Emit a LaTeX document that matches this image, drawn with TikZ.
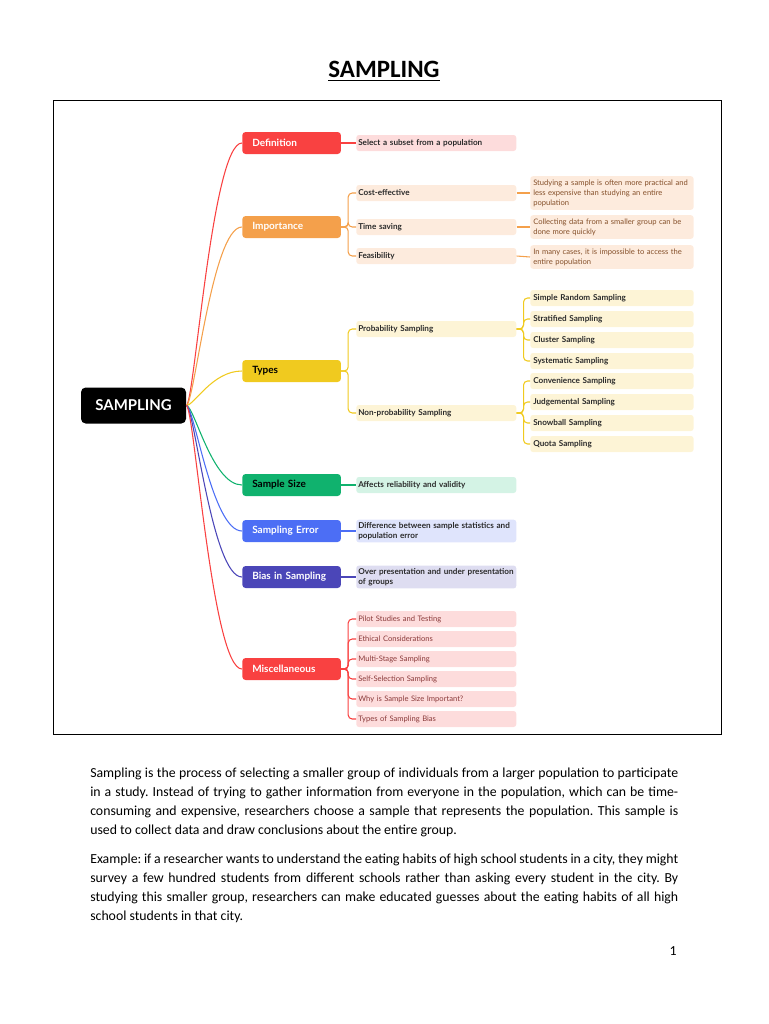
\documentclass[tikz,border=0pt]{standalone}
\usepackage{fontspec}
\usepackage{xcolor}
\usepackage{tikz}
\setmainfont{Carlito}
\newfontfamily\mapfont{Lato}
\frenchspacing
\definecolor{DefRed}{HTML}{F94141}
\definecolor{ImpOrange}{HTML}{F4A04B}
\definecolor{TypYellow}{HTML}{F0CA1F}
\definecolor{SizGreen}{HTML}{10B26E}
\definecolor{ErrBlue}{HTML}{4C6EF5}
\definecolor{BiaIndigo}{HTML}{4B46B8}
\definecolor{PinkLight}{HTML}{FDDCDC}
\definecolor{PeachLight}{HTML}{FDEBDD}
\definecolor{YellowLight}{HTML}{FDF4D6}
\definecolor{MintLight}{HTML}{D4F3E5}
\definecolor{BlueLight}{HTML}{DFE4FC}
\definecolor{LavLight}{HTML}{DEDDF1}
\definecolor{TextDark}{HTML}{2B2B2B}
\definecolor{ImpText}{HTML}{85502A}
\definecolor{MisText}{HTML}{8A3A3A}

\tikzset{
  rootbox/.style={fill=black, text=white, rounded corners=3.5pt, minimum width=78.75pt,
    minimum height=27pt, font=\mapfont\bfseries\fontsize{11.2}{12}\selectfont},
  topic/.style={anchor=west, rounded corners=2.5pt, text width=59pt, inner xsep=7.5pt,
    inner ysep=0pt, minimum height=16.5pt, text=white, align=left,
    font=\mapfont\bfseries\fontsize{7.5}{8}\selectfont},
  leaf/.style={anchor=west, rounded corners=2pt, text width=117pt, inner xsep=1.5pt,
    inner ysep=2pt, minimum height=12pt, text=TextDark, align=left,
    font=\mapfont\bfseries\fontsize{6.1}{7.5}\selectfont},
  subleaf/.style={leaf, text width=118pt, inner xsep=2.25pt},
  note/.style={subleaf, inner ysep=2.5pt, font=\mapfont\fontsize{5.7}{7.5}\selectfont},
  branch/.style={line width=0.8pt},
  para/.style={anchor=north west, inner sep=0pt, text width=441pt, align=justify,
    font=\fontsize{10.35}{14.25}\selectfont}
}

\begin{document}
\begin{tikzpicture}[x=0.75pt, y=-0.75pt]
    \useasboundingbox (0,0) rectangle (768,1024);

    % Title of the page
    \node (title) at (384,71) {\fontsize{18.7}{20}\selectfont\bfseries\underline{SAMPLING}};

    % Frame round the mind map
    \draw[line width=0.75pt] (53,100) rectangle (721,734);

    % Root and main topics
    \node[rootbox] (root) at (133.5,405.5) {SAMPLING};
    \node[topic, fill=DefRed] (def) at (242,143) {Definition};
    \node[topic, fill=ImpOrange] (imp) at (242,227) {Importance};
    \node[topic, fill=TypYellow, text=black] (typ) at (242,371) {Types};
    \node[topic, fill=SizGreen, text=black] (siz) at (242,485) {Sample Size};
    \node[topic, fill=ErrBlue] (err) at (242,531) {Sampling Error};
    \node[topic, fill=BiaIndigo] (bia) at (242,577) {Bias in Sampling};
    \node[topic, fill=DefRed] (mis) at (242,669) {Miscellaneous};

    \foreach \tp/\cl in {def/DefRed, imp/ImpOrange, typ/TypYellow, siz/SizGreen,
                         err/ErrBlue, bia/BiaIndigo, mis/DefRed}
        \draw[branch, \cl] (root.east) .. controls +(8,0) and +(-30,0) .. (\tp.west);

    % Definition
    \node[leaf, fill=PinkLight] (subset) at (356,143) {Select a subset from a population};
    \draw[branch, DefRed] (def.east) -- (subset.west);

    % Importance
    \node[leaf, fill=PeachLight] (cost) at (356,193) {Cost-effective};
    \node[leaf, fill=PeachLight] (time) at (356,227) {Time saving};
    \node[leaf, fill=PeachLight] (feas) at (356,256) {Feasibility};
    \node[note, fill=PeachLight, text=ImpText] (costnote) at (530,193)
        {Studying a sample is often more practical and\\ less expensive than studying an entire\\ population};
    \node[note, fill=PeachLight, text=ImpText] (timenote) at (530,227)
        {Collecting data from a smaller group can be\\ done more quickly};
    \node[note, fill=PeachLight, text=ImpText] (feasnote) at (530,257)
        {In many cases, it is impossible to access the\\ entire population};
    \foreach \lf in {cost, time, feas}
        \draw[branch, ImpOrange, rounded corners=3] (imp.east) -- ++(7,0) |- (\lf.west);
    \draw[branch, ImpOrange] (cost.east) -- (costnote.west);
    \draw[branch, ImpOrange] (time.east) -- (timenote.west);
    \draw[branch, ImpOrange] (feas.east) -- (feasnote.west);

    % Types
    \node[leaf, fill=YellowLight] (prob) at (356,329) {Probability Sampling};
    \node[leaf, fill=YellowLight] (nonprob) at (356,413) {Non-probability Sampling};
    \foreach \lf in {prob, nonprob}
        \draw[branch, TypYellow, rounded corners=3] (typ.east) -- ++(7,0) |- (\lf.west);
    \foreach \nm/\yy/\txt in {simple/298/Simple Random Sampling, strat/319/Stratified Sampling,
                              clust/340/Cluster Sampling, syst/361/Systematic Sampling} {
        \node[subleaf, fill=YellowLight] (\nm) at (530,\yy) {\txt};
        \draw[branch, TypYellow, rounded corners=3] (prob.east) -- ++(7,0) |- (\nm.west);
    }
    \foreach \nm/\yy/\txt in {conv/381/Convenience Sampling, judg/402/Judgemental Sampling,
                              snow/423/Snowball Sampling, quota/444/Quota Sampling} {
        \node[subleaf, fill=YellowLight] (\nm) at (530,\yy) {\txt};
        \draw[branch, TypYellow, rounded corners=3] (nonprob.east) -- ++(7,0) |- (\nm.west);
    }

    % Sample size, error and bias
    \node[leaf, fill=MintLight] (relia) at (356,485) {Affects reliability and validity};
    \draw[branch, SizGreen] (siz.east) -- (relia.west);
    \node[leaf, fill=BlueLight] (diff) at (356,531)
        {Difference between sample statistics and\\ population error};
    \draw[branch, ErrBlue] (err.east) -- (diff.west);
    \node[leaf, fill=LavLight] (over) at (356,577)
        {Over presentation and under presentation\\ of groups};
    \draw[branch, BiaIndigo] (bia.east) -- (over.west);

    % Miscellaneous
    \foreach \nm/\yy/\txt in {pilot/619/Pilot Studies and Testing, ethic/639/Ethical Considerations,
                              multi/659/Multi-Stage Sampling, self/679/Self-Selection Sampling,
                              why/699/Why is Sample Size Important?, kinds/719/Types of Sampling Bias} {
        \node[leaf, fill=PinkLight, text=MisText, font=\mapfont\fontsize{5.7}{7.5}\selectfont]
            (\nm) at (356,\yy) {\txt};
        \draw[branch, DefRed, rounded corners=3] (mis.east) -- ++(7,0) |- (\nm.west);
    }

    % Text below the map
    \node[para] (intro) at (90,768) {Sampling is the process of selecting a smaller group of individuals from a larger population to participate\linebreak
        in a study. Instead of trying to gather information from everyone in the population, which can be time-\linebreak
        consuming and expensive, researchers choose a sample that represents the population. This sample is\linebreak
        used to collect data and draw conclusions about the entire group.};
    \node[para] (example) at (90,854) {Example: if a researcher wants to understand the eating habits of high school students in a city, they might\linebreak
        survey a few hundred students from different schools rather than asking every student in the city. By\linebreak
        studying this smaller group, researchers can make educated guesses about the eating habits of all high\linebreak
        school students in that city.};
    \node[font=\fontsize{10.35}{12}\selectfont] (pagenum) at (673,951) {1};
\end{tikzpicture}
\end{document}
